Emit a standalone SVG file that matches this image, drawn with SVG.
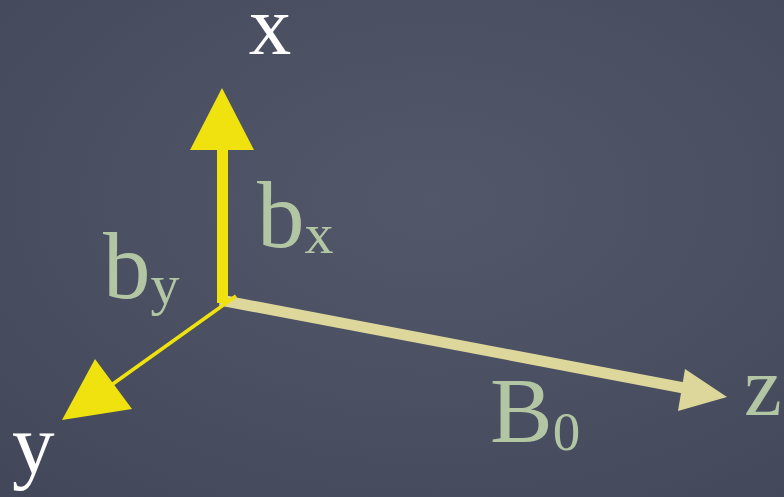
<svg xmlns="http://www.w3.org/2000/svg" width="784" height="497" viewBox="0 0 784 497">
<defs>
<radialGradient id="bg" cx="0.55" cy="0.4" r="0.8">
<stop offset="0" stop-color="#52586a"/>
<stop offset="1" stop-color="#43475a"/>
</radialGradient>
<style>
.lbl{font-family:"Liberation Serif","Times New Roman",serif;}
.axis{fill:#ffffff;font-size:85px;}
.comp{fill:#b3c6a3;}
.yel{fill:#f0e20e;}
.bei{fill:#ded79c;}
</style>
</defs>
<rect width="784" height="497" fill="url(#bg)"/>
<g id="connectors">
<g id="z-arrow">
<line x1="220" y1="300" x2="684" y2="388" stroke="#ded79c" stroke-width="11"/>
<polygon class="bei" points="727,397 685,369 678,411"/>
</g>
<g id="x-arrow">
<rect class="yel" x="217" y="148" width="11" height="155"/>
<polygon class="yel" points="222,88 190,150 254,150"/>
</g>
<g id="y-arrow">
<line x1="236" y1="296" x2="110" y2="386" stroke="#f0e20e" stroke-width="3.5"/>
<polygon class="yel" points="62,420 95,359 132,409"/>
</g>
</g>
<g id="label-x"><text class="lbl axis" x="270" y="54" text-anchor="middle">x</text></g>
<g id="label-y"><text class="lbl axis" x="12" y="473">y</text></g>
<g id="label-z"><text class="lbl comp" x="744" y="415" font-size="85">z</text></g>
<g id="label-bx"><text class="lbl comp" x="257" y="247" font-size="95">b<tspan font-size="58" dy="6">x</tspan></text></g>
<g id="label-by"><text class="lbl comp" x="103" y="298" font-size="95">b<tspan font-size="58" dy="6">y</tspan></text></g>
<g id="label-B0"><text class="lbl comp" x="490" y="442" font-size="94">B<tspan font-size="55" dy="8">0</tspan></text></g>
</svg>
